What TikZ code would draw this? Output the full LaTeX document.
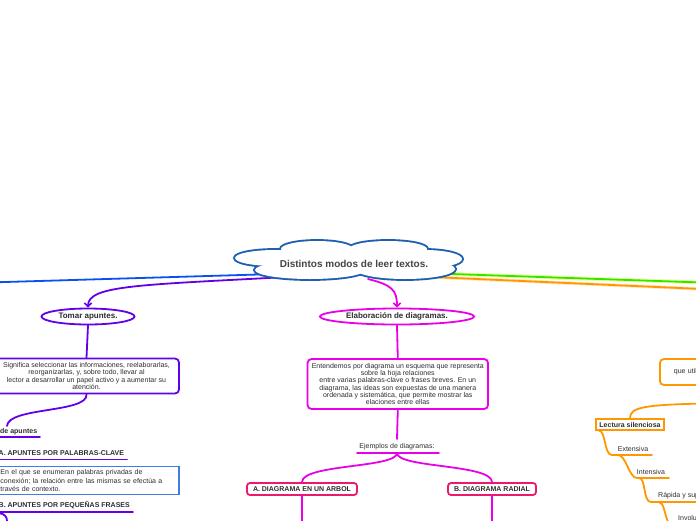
\documentclass[tikz,border=0pt]{standalone}
\usepackage{fontspec}
\setmainfont{Liberation Sans}
\usetikzlibrary{shapes.geometric,arrows.meta}
\definecolor{cloudblue}{RGB}{30,96,176}
\definecolor{linkblue}{RGB}{8,80,240}
\definecolor{purp}{RGB}{98,0,234}
\definecolor{mag}{RGB}{232,0,232}
\definecolor{pinkred}{RGB}{238,24,110}
\definecolor{boxblue}{RGB}{64,124,232}
\definecolor{lgreen}{RGB}{50,228,0}
\definecolor{glow}{RGB}{235,255,140}
\definecolor{orng}{RGB}{255,152,0}
\definecolor{txt}{RGB}{45,45,45}
\definecolor{titlegray}{RGB}{68,68,68}
\begin{document}
\begin{tikzpicture}[x=1pt,y=-1pt,
  conn/.style={line width=1.8pt, line cap=round},
  tip/.style={-{Straight Barb[length=3.5pt,width=7pt,line width=1.6pt]}},
  every node/.style={text=txt},
  body/.style={font=\fontsize{7}{7.6}\selectfont},
  bbody/.style={font=\fontsize{7}{7.6}\selectfont\bfseries},
  oval/.style={ellipse, draw, line width=1.8pt, fill=white, inner sep=0,
    font=\fontsize{8}{9}\selectfont\bfseries},
  rbox/.style={rectangle, rounded corners=4pt, draw, line width=1.8pt,
    fill=white, inner sep=0, align=center},
  lbl/.style={inner sep=0, anchor=base}]
\useasboundingbox (0,0) rectangle (696,520);

% ---------- nodes ----------
\node[oval, draw=purp, minimum width=93pt, minimum height=16pt] (tomar) at (88,316.5) {Tomar apuntes.};
\node[rbox, draw=purp, minimum width=185pt, minimum height=35pt,
  font=\fontsize{7}{7.55}\selectfont] (tbox) at (86.5,376)
  {Significa seleccionar las informaciones, reelaborarlas,\\ reorganizarlas, y, sobre todo, llevar al\\ lector a desarrollar un papel activo y a aumentar su\\ atención.};
\node[lbl, anchor=base west, bbody] (deap) at (0,433) {de apuntes};
\node[lbl, anchor=base west, bbody] (apal) at (-1.5,455.5) {A. APUNTES POR PALABRAS-CLAVE};
\node[rectangle, draw=boxblue, line width=1.8pt, minimum height=28pt, inner xsep=3.5pt,
  inner ysep=0pt, text width=175pt, align=left, font=\fontsize{7}{8.3}\selectfont] (bbox) at (88,480.5)
  {En el que se enumeran palabras privadas de\\ conexión; la relación entre las mismas se efectúa a\\ través de contexto.};
\node[lbl, anchor=base west, bbody] (bfra) at (-1.5,507.3) {B. APUNTES POR PEQUEÑAS FRASES};

\node[oval, draw=mag, minimum width=154pt, minimum height=16pt] (elab) at (397,316.5) {Elaboración de diagramas.};
\node[rbox, draw=mag, minimum width=180.5pt, minimum height=50pt,
  font=\fontsize{7}{7.07}\selectfont] (ebox) at (397.8,384)
  {Entendemos por diagrama un esquema que representa\\ sobre la hoja relaciones\\ entre varias palabras-clave o frases breves. En un\\ diagrama, las ideas son expuestas de una manera\\ ordenada y sistemática, que permite mostrar las\\ elaciones entre ellas};
\node[lbl, body] (ejem) at (397,448.5) {Ejemplos de diagramas:};
\node[rbox, draw=pinkred, rounded corners=3pt, minimum width=110pt, minimum height=12pt, bbody] (adiag) at (302,489) {A. DIAGRAMA EN UN ARBOL};
\node[rbox, draw=pinkred, rounded corners=3pt, minimum width=88pt, minimum height=12pt, bbody] (bdiag) at (492,489) {B. DIAGRAMA RADIAL};

\node[rbox, draw=orng, anchor=west, minimum height=26pt, inner xsep=14pt, text width=50pt,
  align=left, body] (qbox) at (659,372) {que util};
\node[rectangle, draw=orng, line width=1.8pt, fill=white, minimum width=68pt, minimum height=11pt,
  inner sep=0, bbody] (lect) at (630,424.5) {Lectura silenciosa};
\node[lbl, body] (ext) at (633,451.5) {Extensiva};
\node[lbl, body] (int) at (651,474.5) {Intensiva};
\node[lbl, anchor=base west, body] (rap) at (658,497.2) {Rápida y sup};
\node[lbl, anchor=base west, body] (invo) at (678,520) {Involu};

% ---------- coordinates ----------
\coordinate (cB) at (292,273.5);
\coordinate (bEnd) at (-5,282.3);
\coordinate (cP) at (296,276.5);
\coordinate (cM) at (368,279);
\coordinate (cG) at (452,274);
\coordinate (gEnd) at (702,282.5);
\coordinate (cO) at (432,277);
\coordinate (oEnd) at (702,289);
\coordinate (deapT) at (7,426);
\coordinate (deapL) at (0,436.7);
\coordinate (deapR) at (40,436.7);
\coordinate (apalL) at (0,459.5);
\coordinate (apalR) at (127,459.5);
\coordinate (bfraL) at (0,512);
\coordinate (bfraR) at (133,512);
\coordinate (arcA) at (-1,513);
\coordinate (arcB) at (7,521);
\coordinate (ejT) at (397,439);
\coordinate (ejL) at (357,453);
\coordinate (ejR) at (439,453);
\coordinate (ejM) at (397,453);
\coordinate (aEnd) at (302,522);
\coordinate (bEndD) at (492,522);
\coordinate (oR) at (702,403.5);
\coordinate (lsw) at (599,430.5);
\coordinate (extL) at (612,455);
\coordinate (extS) at (618,455);
\coordinate (extR) at (652,455);
\coordinate (intL) at (637,478);
\coordinate (intS) at (639,478);
\coordinate (intR) at (669,478);
\coordinate (rapL) at (651,502);
\coordinate (rapS) at (659,502);
\coordinate (rapR) at (702,502);
\coordinate (invT) at (668,522);

% ---------- connectors ----------
\draw[conn, linkblue] (cB) -- (bEnd);
\draw[conn, purp, tip] (cP) .. controls (140,285) and (88,285) .. (tomar.north);
\draw[conn, mag, tip] (cM) .. controls (392,285) and (397,290) .. (elab.north);
\draw[line width=4pt, glow, opacity=0.8] (cG) -- (gEnd);
\draw[conn, lgreen] (cG) -- (gEnd);
\draw[line width=3.4pt, orng!35, opacity=0.7] (cO) -- (oEnd);
\draw[conn, orng] (cO) -- (oEnd);

\draw[conn, purp] (tomar.south) -- (tbox.north);
\draw[conn, purp] (tbox.south) .. controls (88,413) and (8,407) .. (deapT);
\draw[conn, purp] (deapL) -- (deapR);
\draw[conn, purp] (apalL) -- (apalR);
\draw[conn, purp] (bfraL) -- (bfraR);
\draw[conn, purp] (arcA) .. controls (5,514) and (7,517) .. (arcB);

\draw[conn, mag] (elab.south) -- (ebox.north);
\draw[conn, mag] (ebox.south) -- (ejT);
\draw[conn, mag] (ejL) -- (ejR);
\draw[conn, mag] (ejM) .. controls (397,468) and (302,464) .. (adiag.north);
\draw[conn, mag] (ejM) .. controls (397,468) and (492,464) .. (bdiag.north);
\draw[conn, mag] (adiag.south) -- (aEnd);
\draw[conn, mag] (bdiag.south) -- (bEndD);

\draw[conn, orng] (oR) .. controls (645,405) and (630,407) .. (lect.north);
\draw[conn, orng] (lsw) .. controls (606,431) and (604,455) .. (extL) -- (extR);
\draw[conn, orng] (extS) .. controls (626,455) and (629,478) .. (intL) -- (intR);
\draw[conn, orng] (intS) .. controls (646,478) and (643,502) .. (rapL) -- (rapR);
\draw[conn, orng] (rapS) .. controls (664,503) and (664,512) .. (invT);

% ---------- cloud ----------
\foreach \cx/\cy/\rx/\ry in {275/258/40/8, 317/249/36/8, 388/249/39/8, 425/259/37/9, 310/270/55/9, 405/269/50/10}
  \draw[cloudblue, line width=3.8pt] (\cx,\cy) ellipse [x radius=\rx pt, y radius=\ry pt];
\foreach \cx/\cy/\rx/\ry in {275/258/40/8, 317/249/36/8, 388/249/39/8, 425/259/37/9, 310/270/55/9, 405/269/50/10}
  \fill[white] (\cx,\cy) ellipse [x radius=\rx pt, y radius=\ry pt];
\fill[white] (350,259) ellipse [x radius=95pt, y radius=11pt];
\node[inner sep=0, anchor=base, text=titlegray, font=\fontsize{10}{12}\selectfont\bfseries] (title) at (354,267.5) {Distintos modos de leer textos.};
\end{tikzpicture}
\end{document}
